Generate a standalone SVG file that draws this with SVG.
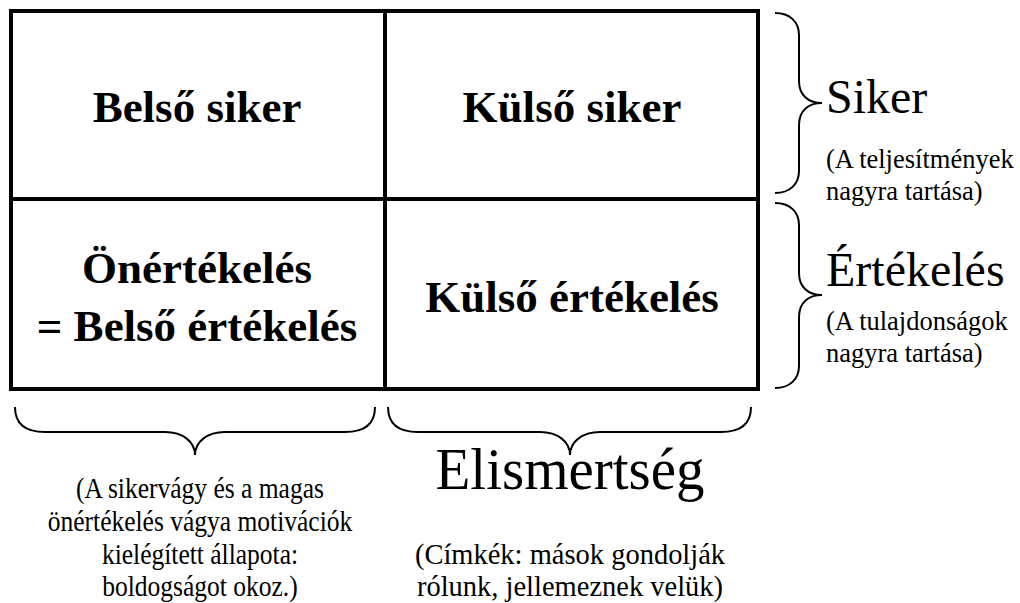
<svg xmlns="http://www.w3.org/2000/svg" width="1020" height="603" viewBox="0 0 1020 603">
<style>
.box{fill:none;stroke:#000;stroke-width:4}
.br{fill:none;stroke:#000;stroke-width:2}
.b{font-family:"Liberation Serif","Times New Roman",serif;font-weight:bold;font-size:45px;fill:#000;text-anchor:middle}
.big{font-family:"Liberation Serif","Times New Roman",serif;font-size:48px;fill:#000}
.sm{font-family:"Liberation Serif","Times New Roman",serif;font-size:26.5px;fill:#000}
.bt{font-family:"Liberation Serif","Times New Roman",serif;font-size:29px;fill:#000;text-anchor:middle}
</style>
<rect width="1020" height="603" fill="#fff"/>
<g id="grid">
<rect class="box" x="11" y="11" width="747" height="378"/>
<line class="box" x1="385" y1="11" x2="385" y2="389"/>
<line class="box" x1="11" y1="199" x2="758" y2="199"/>
</g>
<g id="belso-siker"><text class="b" x="197" y="122">Belső siker</text></g>
<g id="kulso-siker"><text class="b" x="572" y="122">Külső siker</text></g>
<g id="onertekeles"><text class="b" x="197" y="283">Önértékelés</text><text class="b" x="197" y="341">= Belső értékelés</text></g>
<g id="kulso-ertekeles"><text class="b" x="572" y="312">Külső értékelés</text></g>
<g id="connectors">
<path class="br" d="M775,13 C790,13 799,22 799,35 L799,81 C799,95 808,103 822,103 C808,103 799,111 799,125 L799,171 C799,184 790,193 775,193"/>
<path class="br" d="M775,203 C790,203 799,212 799,225 L799,273 C799,287 808,295 822,295 C808,295 799,303 799,317 L799,366 C799,379 790,388 775,388"/>
<path class="br" d="M15,407 C15,425 27,432 45,432 L165,432 C183,432 195,442 195,455 C195,442 207,432 225,432 L345,432 C363,432 375,425 375,407"/>
<path class="br" d="M388,407 C388,425 400,432 418,432 L540,432 C558,432 570,442 570,455 C570,442 582,432 600,432 L721,432 C739,432 751,425 751,407"/>
</g>
<g id="siker">
<text class="big" x="826" y="113">Siker</text>
<text class="sm" x="826" y="168">(A teljesítmények</text>
<text class="sm" x="826" y="200">nagyra tartása)</text>
</g>
<g id="ertekeles">
<text class="big" x="826" y="286">Értékelés</text>
<text class="sm" x="826" y="330">(A tulajdonságok</text>
<text class="sm" x="826" y="362">nagyra tartása)</text>
</g>
<g id="motivacio" transform="translate(200,0) scale(0.88,1)">
<text class="bt" x="0" y="498">(A sikervágy és a magas</text>
<text class="bt" x="0" y="531">önértékelés vágya motivációk</text>
<text class="bt" x="0" y="564">kielégített állapota:</text>
<text class="bt" x="0" y="596">boldogságot okoz.)</text>
</g>
<g id="elismertseg" transform="translate(570,0) scale(0.95,1)">
<text class="big" x="0" y="489" text-anchor="middle" style="font-size:60px">Elismertség</text>
<text class="bt" x="0" y="564" style="font-size:30px">(Címkék: mások gondolják</text>
<text class="bt" x="0" y="596" style="font-size:30px">rólunk, jellemeznek velük)</text>
</g>
</svg>
